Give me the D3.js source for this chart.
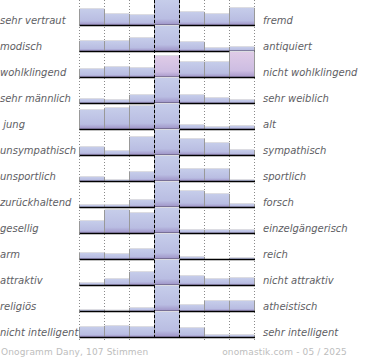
<!DOCTYPE html>
<html>
<head>
<meta charset="utf-8">
<script src="https://cdn.jsdelivr.net/npm/d3@7"></script>
<style>
  html, body { margin: 0; padding: 0; background: #fff; }
  svg { display: block; }
</style>
</head>
<body>
<svg id="chart" width="370" height="360"></svg>
<script>
// Left / right poles of each scale
const leftLabels = ["sehr vertraut", "modisch", "wohlklingend", "sehr männlich", " jung",
  "unsympathisch", "unsportlich", "zurückhaltend", "gesellig", "arm", "attraktiv",
  "religiös", "nicht intelligent"];
const rightLabels = ["fremd", "antiquiert", "nicht wohlklingend", "sehr weiblich", "alt",
  "sympathisch", "sportlich", "forsch", "einzelgängerisch", "reich", "nicht attraktiv",
  "atheistisch", "sehr intelligent"];
// Share of votes (%) per step of the 7-step scale
const votes = [
  [16, 11, 10, 25, 13, 11, 17],
  [10, 10, 13, 51, 9, 3, 4],
  [8, 10, 9, 21, 15, 15, 25],
  [4, 3, 8, 70, 8, 5, 3],
  [19, 21, 23, 29, 4, 2, 3],
  [8, 4, 18, 37, 16, 12, 5],
  [4, 1, 9, 61, 12, 12, 1],
  [2, 2, 7, 58, 16, 13, 3],
  [12, 23, 20, 36, 3, 3, 3],
  [6, 5, 10, 77, 2, 0, 1],
  [2, 6, 13, 57, 9, 6, 7],
  [1, 0.5, 3, 69, 6, 10, 10],
  [10, 11, 10, 55, 9, 2, 2]
];
// Steps marked in the reference (row, step)
const marked = [[2, 3], [2, 6]];
const steps = [1, 2, 3, 4, 5, 6, 7];
const footerLeft = "Onogramm Dany, 107 Stimmen";
const footerRight = "onomastik.com - 05 / 2025";

const svg = d3.select("#chart");
const defs = svg.append("defs");
function grad(id, stops) {
  const g = defs.append("linearGradient").attr("id", id)
    .attr("x1", 0).attr("y1", 0).attr("x2", 0).attr("y2", 1);
  stops.forEach(s => g.append("stop").attr("offset", s[0]).attr("stop-color", s[1]));
}
grad("gBlue", [[0, "#c6cdea"], [0.75, "#b9bde2"], [1, "#9e92c6"]]);
grad("gPink", [[0, "#dfcbe7"], [0.75, "#cdbde2"], [1, "#a898ca"]]);

const x = d3.scaleBand().domain(steps).range([79.5, 254.5]).padding(0);
const rowPitch = 26;
const baseline = i => 25 + rowPitch * i;
const h = d3.scaleLinear().domain([0, 25]).range([0, 25]).clamp(true);

const gridX = d3.range(8).map(k => 79.5 + x.bandwidth() * k);

// dotted grid
svg.append("g").selectAll("line").data(gridX.filter((d, k) => k !== 3 && k !== 4)).join("line")
  .attr("x1", d => d).attr("x2", d => d).attr("y1", 0).attr("y2", 340)
  .attr("stroke", "#8a8a8a").attr("stroke-width", 1).attr("stroke-dasharray", "1,2");

const isMarked = (r, c) => marked.some(m => m[0] === r && m[1] === c);

const rows = svg.append("g").selectAll("g").data(votes).join("g");
rows.each(function(vals, r) {
  const g = d3.select(this);
  const b = baseline(r);
  vals.forEach((v, c) => {
    const hh = h(v);
    if (hh <= 0) return;
    const x0 = x(steps[c]);
    g.append("rect").attr("x", x0).attr("y", b - hh).attr("width", x.bandwidth()).attr("height", hh)
      .attr("fill", isMarked(r, c) ? "url(#gPink)" : "url(#gBlue)");
    g.append("line").attr("x1", x0).attr("x2", x0 + x.bandwidth()).attr("y1", b - hh - 0.5).attr("y2", b - hh - 0.5)
      .attr("stroke", "#dcdce2").attr("stroke-width", 1);
  });
  // vertical separators between bars
  vals.forEach((v, c) => {
    const x0 = x(steps[c]);
    const prev = c > 0 ? h(vals[c - 1]) : 0;
    const hh = Math.max(h(v), prev);
    if (hh <= 0) return;
    g.append("line").attr("x1", x0).attr("x2", x0).attr("y1", b - hh).attr("y2", b)
      .attr("stroke", "#999").attr("stroke-width", 1);
  });
  const last = h(vals[6]);
  if (last > 0) g.append("line").attr("x1", 254.5).attr("x2", 254.5).attr("y1", b - last).attr("y2", b)
    .attr("stroke", "#999").attr("stroke-width", 1);
  g.append("line").attr("x1", 79.5).attr("x2", 255).attr("y1", b + 0.5).attr("y2", b + 0.5)
    .attr("stroke", "#000").attr("stroke-width", 1.6);
  g.append("text").attr("x", 0).attr("y", b - 1.5).text(leftLabels[r])
    .attr("font-family", "DejaVu Sans").attr("font-style", "italic").attr("font-size", 10)
    .attr("fill", "#5e5e64").style("white-space", "pre");
  g.append("text").attr("x", 263).attr("y", b - 1.5).text(rightLabels[r])
    .attr("font-family", "DejaVu Sans").attr("font-style", "italic").attr("font-size", 10)
    .attr("fill", "#5e5e64");
});

// dashed centre lines
svg.append("g").selectAll("line").data([gridX[3], gridX[4]]).join("line")
  .attr("x1", d => d).attr("x2", d => d).attr("y1", 0).attr("y2", 340)
  .attr("stroke", "#000").attr("stroke-width", 1).attr("stroke-dasharray", "3,2");

svg.append("text").attr("x", 1).attr("y", 355).text(footerLeft)
  .attr("font-family", "DejaVu Sans").attr("font-size", 9).attr("letter-spacing", 0.15).attr("fill", "#bdbdbd");
svg.append("text").attr("x", 347).attr("y", 355).attr("text-anchor", "end").text(footerRight)
  .attr("font-family", "DejaVu Sans").attr("font-size", 9).attr("letter-spacing", 0.15).attr("fill", "#bdbdbd");
</script>
</body>
</html>
